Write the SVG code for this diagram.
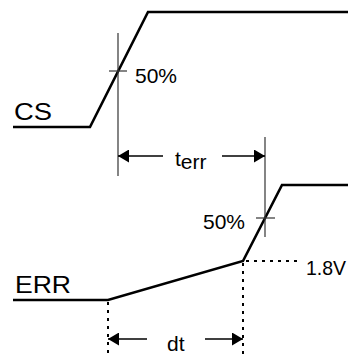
<svg xmlns="http://www.w3.org/2000/svg" width="348" height="358" viewBox="0 0 348 358">
<style>
.wave{fill:none;stroke:#000;stroke-width:2.6;stroke-linejoin:miter}
.thin{fill:none;stroke:#333;stroke-width:1.2}
.dot{fill:none;stroke:#000;stroke-width:2;stroke-dasharray:3 5}
.arr{fill:none;stroke:#000;stroke-width:1.4;marker-end:url(#ah)}
text{font-family:"Liberation Sans",Arial,sans-serif;fill:#000}
.big{font-size:24px}
.lbl{font-size:21px}
</style>
<defs>
<marker id="ah" markerUnits="userSpaceOnUse" markerWidth="11" markerHeight="13" viewBox="0 0 11 13" refX="11" refY="6.5" orient="auto">
<path d="M0,0 L11,6.5 L0,13 Z" fill="#000"/>
</marker>
</defs>
<g id="cs">
<path class="wave" d="M13,127 L90,127 L148,12 L348,12"/>
<text class="big" x="14" y="120" textLength="38" lengthAdjust="spacingAndGlyphs">CS</text>
<line class="thin" x1="118" y1="33" x2="118" y2="176"/>
<line class="thin" x1="109" y1="71" x2="127" y2="71"/>
<text class="lbl" x="135" y="83">50%</text>
</g>
<g id="err">
<path class="wave" d="M13,300 L108,300 L243,261 L282,185 L348,185"/>
<text class="big" x="15" y="293" textLength="56" lengthAdjust="spacingAndGlyphs">ERR</text>
<line class="thin" x1="265" y1="137" x2="265" y2="237"/>
<line class="thin" x1="256" y1="218" x2="275" y2="218"/>
<text class="lbl" x="203" y="229">50%</text>
<text class="lbl" x="306" y="275" textLength="40" lengthAdjust="spacingAndGlyphs">1.8V</text>
</g>
<g id="connectors">
<line class="dot" x1="108" y1="302" x2="108" y2="358"/>
<line class="dot" x1="243" y1="263" x2="243" y2="358"/>
<line class="dot" x1="246" y1="261" x2="302" y2="261"/>
<line class="arr" x1="163" y1="156" x2="118" y2="156"/>
<line class="arr" x1="222" y1="156" x2="265" y2="156"/>
<line class="arr" x1="147" y1="339" x2="108" y2="339"/>
<line class="arr" x1="205" y1="339" x2="243" y2="339"/>
</g>
<g id="labels">
<text class="lbl" x="175" y="166">t<tspan dy="3">err</tspan></text>
<text class="lbl" x="167" y="351">dt</text>
</g>
</svg>
